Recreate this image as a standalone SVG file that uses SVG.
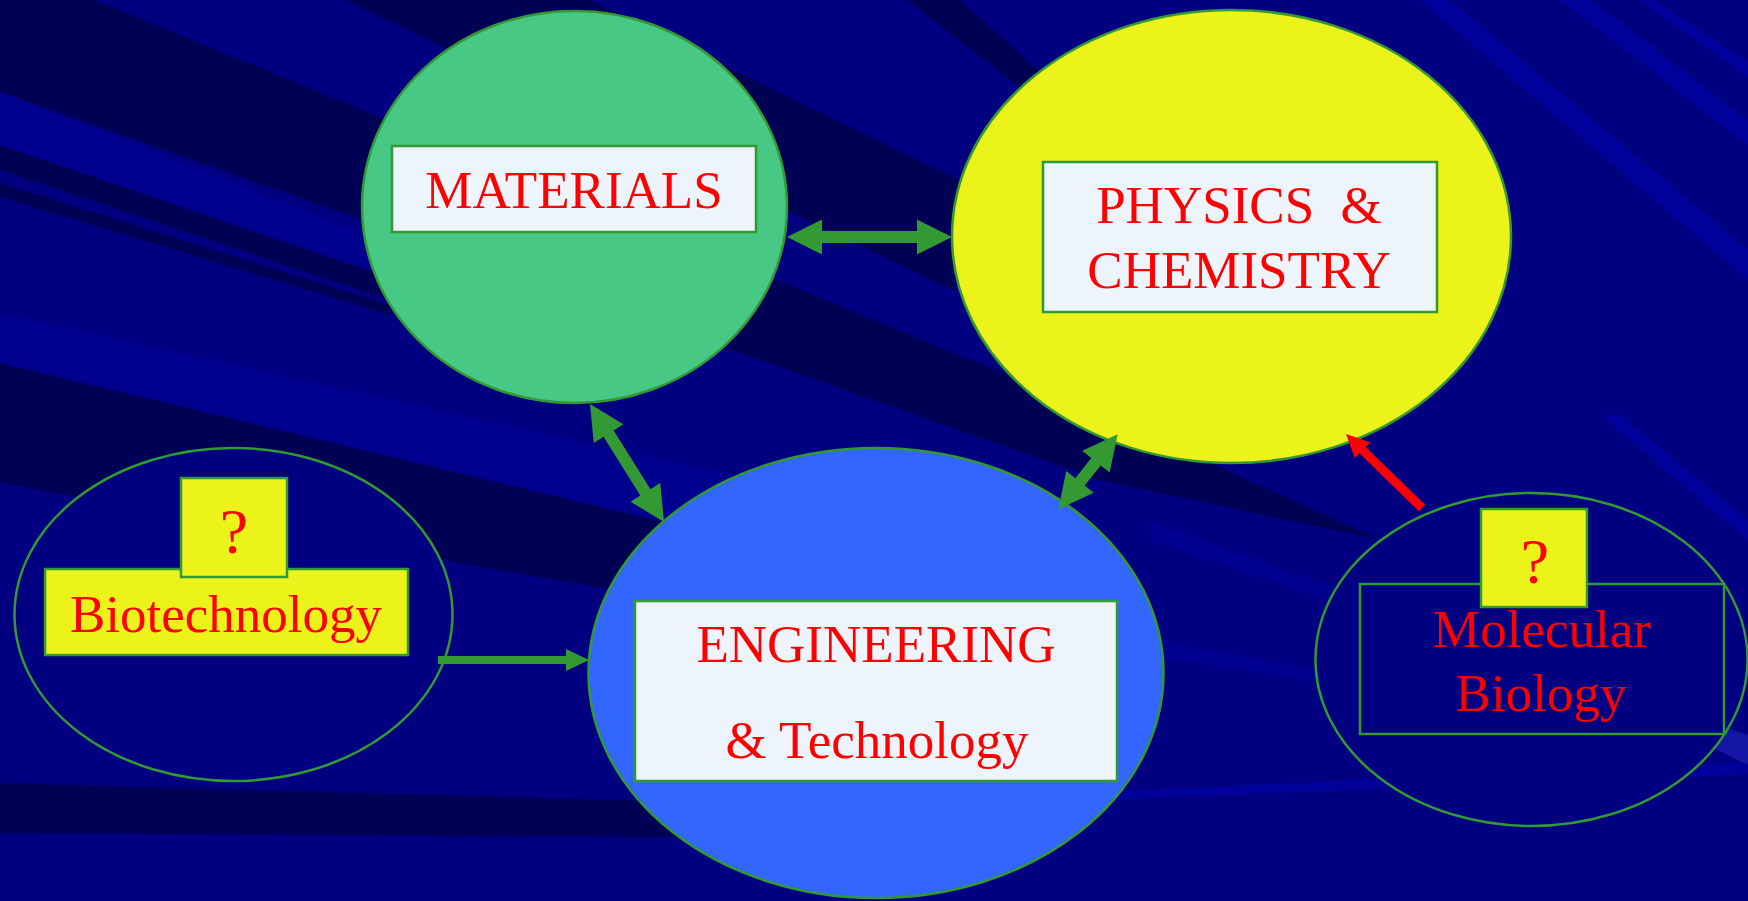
<svg xmlns="http://www.w3.org/2000/svg" width="1748" height="901" viewBox="0 0 1748 901">
  <style>
    .dark { fill: #000054; }
    .lite { fill: #00008E; }
    .streak { fill: #00009A; }
    .node { stroke: #339933; stroke-width: 2.5; }
    .box { fill: #EEF4FB; stroke: #339933; stroke-width: 2.5; }
    .ybox { fill: #EBF31A; stroke: #339933; stroke-width: 2.5; }
    .label { font-family: "Liberation Serif", "Times New Roman", serif; font-size: 53px; fill: #FF0000; text-anchor: middle; }
    .q { font-size: 64px; }
    .arrow { fill: #339933; }
    .red { fill: #FF0000; }
  </style>

  <!-- backdrop: navy with streaks -->
  <g id="background">
    <rect x="0" y="0" width="1748" height="901" fill="#000080"/>
    <polygon class="dark" points="0,0 95,0 1100,413 1380,540 1100,480 0,92"/>
    <polygon class="dark" points="345,0 590,0 1000,200 953,290"/>
    <polygon class="dark" points="0,145 0,170 390,300 390,278"/>
    <polygon class="dark" points="0,183 0,197 390,315 390,305"/>
    <polygon class="lite" points="0,92 0,145 400,280 420,255"/>
    <polygon class="lite" points="0,313 0,363 800,560 800,490"/>
    <polygon class="dark" points="0,363 0,483 700,605 760,545"/>
    <polygon class="dark" points="0,783 0,833 874,838 874,807"/>
    <polygon class="dark" points="907,0 960,0 1060,90 1030,95"/>
    <polygon class="streak" points="1420,0 1450,0 1748,250 1748,280"/>
    <polygon class="streak" points="1560,0 1590,0 1748,120 1748,145"/>
    <polygon class="streak" points="1640,0 1655,0 1748,62 1748,78"/>
    <polygon class="streak" points="1600,415 1620,415 1748,520 1748,540"/>
    <polygon class="lite" points="1150,520 1340,590 1340,605 1150,540"/>
    <polygon class="lite" points="1150,640 1340,672 1340,686 1150,656"/>
    <polygon class="streak" points="1100,792 1748,762 1748,774 1100,800"/>
    <polygon fill="#1616A6" points="1650,702 1748,735 1748,765 1660,722"/>
  </g>

  <g id="materials">
    <ellipse class="node" cx="574.5" cy="207" rx="212.5" ry="196" fill="#47C985"/>
    <rect class="box" x="392" y="146" width="364" height="86"/>
    <text class="label" x="574" y="208">MATERIALS</text>
  </g>

  <g id="physics-chemistry">
    <ellipse class="node" cx="1231.5" cy="236.5" rx="279.5" ry="226.5" fill="#EBF31A"/>
    <rect class="box" x="1043" y="162" width="394" height="150"/>
    <text class="label" x="1239" y="223" xml:space="preserve">PHYSICS  &amp;</text>
    <text class="label" x="1239" y="288">CHEMISTRY</text>
  </g>

  <g id="engineering">
    <ellipse class="node" cx="876" cy="673" rx="287.5" ry="225" fill="#3366FF"/>
    <rect class="box" x="635" y="601" width="482" height="180"/>
    <text class="label" x="876" y="662">ENGINEERING</text>
    <text class="label" x="877" y="758">&amp; Technology</text>
  </g>

  <g id="biotechnology">
    <ellipse class="node" cx="233.5" cy="614.5" rx="219" ry="166.5" fill="#000080"/>
    <rect class="ybox" x="45" y="569" width="363" height="86"/>
    <text class="label" x="226" y="632">Biotechnology</text>
    <rect class="ybox" x="181" y="478" width="106" height="99"/>
    <text class="label q" x="234" y="553">?</text>
  </g>

  <g id="molecular-biology">
    <ellipse class="node" cx="1531.5" cy="659.5" rx="216" ry="166.5" fill="#000080"/>
    <rect class="node" x="1360" y="584" width="364" height="150" fill="#000080"/>
    <rect class="ybox" x="1481" y="509" width="106" height="98"/>
    <text class="label q" x="1535" y="583">?</text>
    <text class="label" x="1542" y="647">Molecular</text>
    <text class="label" x="1541" y="711">Biology</text>
  </g>

  <g id="connectors">
    <!-- materials <-> physics -->
    <polygon class="arrow" transform="translate(787,237)" points="0,0 35,-17.5 35,-6 130,-6 130,-17.5 165,0 130,17.5 130,6 35,6 35,17.5"/>
    <!-- materials <-> engineering -->
    <polygon class="arrow" transform="translate(590,404) rotate(57.9)" points="0,0 35,-17.5 35,-6 104.3,-6 104.3,-17.5 139.3,0 104.3,17.5 104.3,6 35,6 35,17.5"/>
    <!-- physics <-> engineering -->
    <polygon class="arrow" transform="translate(1117.7,434.3) rotate(128.4)" points="0,0 35,-17.5 35,-6 60.7,-6 60.7,-17.5 95.7,0 60.7,17.5 60.7,6 35,6 35,17.5"/>
    <!-- biotechnology -> engineering -->
    <polygon class="arrow" points="438,656 566,656 566,649 589,660 566,671 566,664 438,664"/>
    <!-- molecular biology -> physics -->
    <polygon class="red" transform="translate(1422,508) rotate(-135.8)" points="0,-4.5 83,-4.5 83,-11 106,0 83,11 83,4.5 0,4.5"/>
  </g>
</svg>
